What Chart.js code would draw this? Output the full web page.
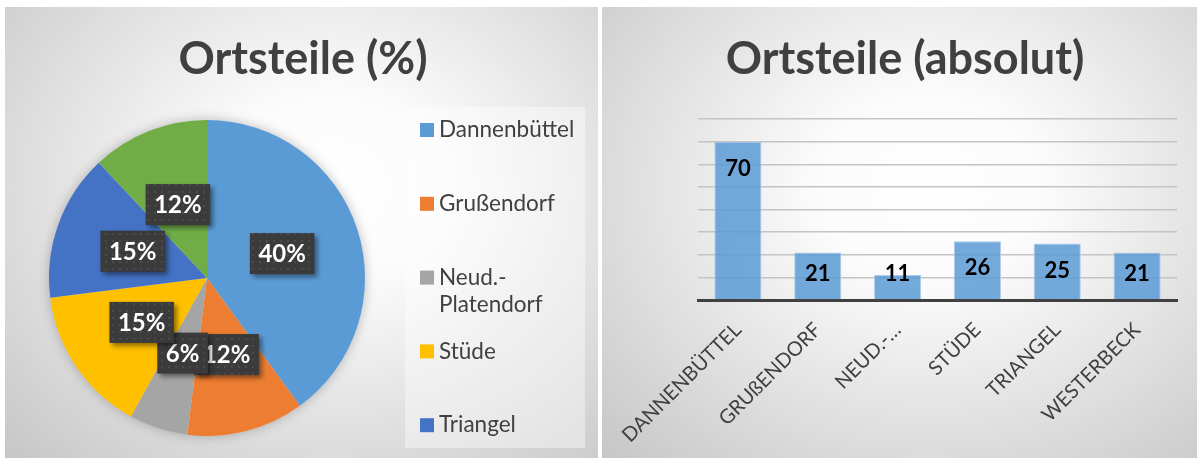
<!DOCTYPE html>
<html>
<head>
<meta charset="utf-8">
<script src="https://cdn.jsdelivr.net/npm/chart.js@4.4.1/dist/chart.umd.min.js"></script>
<style>
  body { margin: 0; background: #fff; width: 1197px; height: 461px; overflow: hidden; position: relative; }
  .panel { position: absolute; top: 7px; height: 451px;
           background: radial-gradient(ellipse farthest-corner at 55% 40%, #ffffff 0%, #fbfbfb 25%, #c6c6c6 100%); }
  #p1 { left: 5px; width: 593px; }
  #p2 { left: 602px; width: 595px; }
  canvas { display: block; }
</style>
</head>
<body>
<div class="panel" id="p1"><canvas id="pie" width="593" height="451"></canvas></div>
<div class="panel" id="p2"><canvas id="bar" width="595" height="451"></canvas></div>
<script>
// Daten
const orte = ['Dannenbüttel', 'Grußendorf', 'Neud.-Platendorf', 'Stüde', 'Triangel', 'Westerbeck'];
const anteilProzent = [40, 12, 6, 15, 15, 12];
const anzahl = [70, 21, 11, 26, 25, 21];
const farben = ['#5B9BD5', '#ED7D31', '#A5A5A5', '#FFC000', '#4472C4', '#70AD47'];

const schrift = 'Lato';

// Großbuchstaben, aber ß bleibt ß
function gross(s) {
    return s.split('ß').map(t => t.toUpperCase()).join('ß');
}
function kurz(s) {
    return s.length > 12 ? gross(s.slice(0, 6)) + '…' : gross(s);
}

// Titel selbst zeichnen (damit er über dem ganzen Feld zentriert ist)
const titel = {
    id: 'titel',
    afterDraw(chart, args, opts) {
        const c = chart.ctx;
        c.save();
        c.font = 'bold 45px ' + schrift;
        c.fillStyle = '#404040';
        c.textAlign = 'center';
        c.textBaseline = 'alphabetic';
        c.fillText(opts.text, opts.x, opts.y);
        c.restore();
    }
};

// Punktmuster für die dunklen Beschriftungskästen
function muster(ctx) {
    const m = document.createElement('canvas');
    m.width = 7; m.height = 7;
    const mc = m.getContext('2d');
    mc.fillStyle = '#3b3b3b';
    mc.fillRect(0, 0, 7, 7);
    mc.fillStyle = '#4b4b4b';
    mc.fillRect(2, 2, 2, 2);
    return ctx.createPattern(m, 'repeat');
}

// Schatten unter dem Kreis
const kreisSchatten = {
    id: 'kreisSchatten',
    beforeDatasetsDraw(chart) {
        const arc = chart.getDatasetMeta(0).data[0];
        const c = chart.ctx;
        c.save();
        c.shadowColor = 'rgba(0,0,0,0.25)';
        c.shadowBlur = 12;
        c.fillStyle = '#ddd';
        c.beginPath();
        c.arc(arc.x, arc.y, arc.outerRadius, 0, Math.PI * 2);
        c.fill();
        c.restore();
    }
};

const kreisWerte = {
    id: 'kreisWerte',
    afterDatasetsDraw(chart) {
        const c = chart.ctx;
        const meta = chart.getDatasetMeta(0);
        const fuell = muster(c);
        meta.data.forEach((arc, i) => {
            const p = arc.tooltipPosition();
            const txt = chart.data.datasets[0].data[i] + '%';
            c.save();
            c.font = 'bold 24px ' + schrift;
            const w = c.measureText(txt).width + 17, h = 41;
            c.shadowColor = 'rgba(0,0,0,0.45)';
            c.shadowBlur = 5;
            c.shadowOffsetX = 3;
            c.shadowOffsetY = 3;
            c.fillStyle = fuell;
            c.fillRect(p.x - w / 2, p.y - h / 2, w, h);
            c.shadowColor = 'transparent';
            c.fillStyle = '#fff';
            c.textAlign = 'center';
            c.textBaseline = 'middle';
            c.fillText(txt, p.x, p.y + 1);
            c.restore();
        });
    }
};

// Legende rechts vom Kreis (Westerbeck passt nicht mehr hinein)
const kreisLegende = {
    id: 'kreisLegende',
    afterDraw(chart) {
        const c = chart.ctx;
        const farb = chart.data.datasets[0].backgroundColor;
        c.save();
        c.fillStyle = 'rgba(255,255,255,0.4)';
        c.fillRect(400, 100, 180, 341);
        c.font = '22.5px ' + schrift;
        c.textBaseline = 'middle';
        chart.data.labels.slice(0, 5).forEach((name, i) => {
            const y = 123 + i * 73.8;
            c.fillStyle = farb[i];
            c.fillRect(415, y - 7, 14, 14);
            c.fillStyle = '#404040';
            name.replace('-', '-\n').split('\n').forEach((z, k) => {
                c.fillText(z, 434, y + k * 27);
            });
        });
        c.restore();
    }
};

new Chart(document.getElementById('pie'), {
    type: 'pie',
    data: {
        labels: orte,
        datasets: [{
            data: anteilProzent,
            backgroundColor: farben,
            borderWidth: 0
        }]
    },
    options: {
        responsive: false,
        animation: false,
        layout: { padding: { left: 44, right: 233, top: 113, bottom: 22 } },
        plugins: {
            legend: { display: false },
            tooltip: { enabled: false },
            titel: { text: 'Ortsteile (%)', x: 298, y: 67 }
        }
    },
    plugins: [kreisSchatten, kreisWerte, kreisLegende, titel]
});

const balkenWerte = {
    id: 'balkenWerte',
    afterDatasetsDraw(chart) {
        const c = chart.ctx;
        const meta = chart.getDatasetMeta(0);
        const basis = chart.scales.y.getPixelForValue(0);
        c.save();
        c.font = 'bold 22px ' + schrift;
        c.fillStyle = '#000';
        c.textAlign = 'center';
        c.textBaseline = 'middle';
        meta.data.forEach((bar, i) => {
            const y = Math.min(bar.y + 27, basis - 26);
            c.fillText(chart.data.datasets[0].data[i], bar.x, y);
        });
        c.restore();
    }
};

new Chart(document.getElementById('bar'), {
    type: 'bar',
    data: {
        labels: orte,
        datasets: [{
            data: anzahl,
            backgroundColor: 'rgba(91,155,213,0.85)',
            borderColor: '#A9CBEA',
            borderWidth: 1,
            barPercentage: 0.59,
            categoryPercentage: 1
        }]
    },
    options: {
        responsive: false,
        animation: false,
        layout: { padding: { left: 96, right: 20, top: 112, bottom: 0 } },
        scales: {
            x: {
                grid: { display: false },
                border: { color: '#404040', width: 3 },
                ticks: {
                    color: '#404040',
                    font: { family: schrift, size: 20 },
                    minRotation: 45,
                    maxRotation: 45,
                    padding: 10,
                    callback: function (v) { return kurz(this.getLabelForValue(v)); }
                },
                afterFit: s => { s.height = 158; }
            },
            y: {
                min: 0,
                max: 80,
                ticks: { display: false, stepSize: 10 },
                grid: { color: '#c4c4c4', lineWidth: 1.5, drawTicks: false },
                border: { display: false },
                afterFit: s => { s.width = 0; }
            }
        },
        plugins: {
            legend: { display: false },
            tooltip: { enabled: false },
            titel: { text: 'Ortsteile (absolut)', x: 303, y: 67 }
        }
    },
    plugins: [balkenWerte, titel]
});
</script>
</body>
</html>
